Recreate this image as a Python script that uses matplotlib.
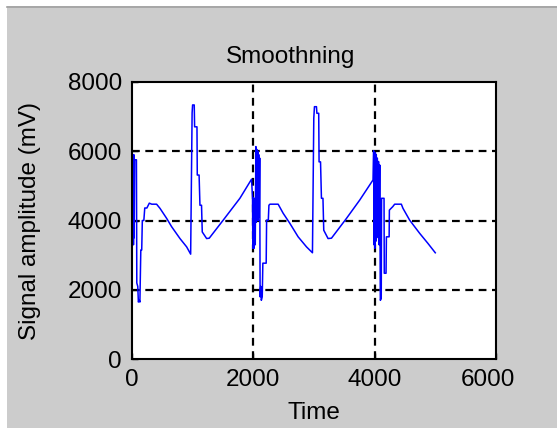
import matplotlib
matplotlib.use('Agg')
import matplotlib.pyplot as plt
from matplotlib.patches import Rectangle
from matplotlib.lines import Line2D
import matplotlib.transforms as mtransforms

plt.rcParams['font.family'] = ['Liberation Sans', 'DejaVu Sans']

# signal vertices (time, amplitude in mV)
time_pts = [0, 4, 9, 14, 19, 24, 29, 34, 40, 50, 78, 84, 100, 110, 125, 135,
            150, 165, 175, 200, 215, 250, 290, 330, 410, 466, 576, 658, 795,
            905, 971, 995, 1003, 1030, 1036, 1075, 1080, 1110, 1124, 1150,
            1162, 1234, 1277, 1507, 1782, 1974,
            1990, 1995, 2000, 2005, 2010, 2015, 2025, 2035, 2045, 2052, 2060,
            2068, 2076, 2084, 2092, 2100, 2108, 2115, 2125, 2135, 2150, 2160,
            2215, 2222, 2250, 2260, 2277, 2412, 2494, 2604, 2741, 2879, 2977,
            2999, 3010, 3043, 3050, 3080, 3086, 3110, 3125, 3150, 3163, 3234,
            3290, 3537, 3756, 3975,
            3985, 3990, 3998, 4005, 4012, 4020, 4028, 4036, 4045, 4055, 4065,
            4075, 4085, 4095, 4110, 4115, 4156, 4160, 4189, 4195, 4240, 4244,
            4300, 4331, 4441, 4468, 4578, 4743, 4879, 5000]
amp_pts = [450, 5850, 3300, 5900, 3400, 5800, 3300, 5900, 3500, 5750, 5750,
           2200, 2100, 1650, 1700, 1650, 3150, 3150, 4000, 4000, 4360, 4360,
           4500, 4470, 4470, 4350, 4060, 3820, 3480, 3240, 3030, 7100, 7330,
           7330, 6700, 6700, 5310, 5310, 4440, 4440, 3670, 3480, 3490, 4010,
           4640, 5190,
           4650, 3200, 4600, 3300, 4650, 3200, 4600, 3300, 6130, 3950, 6050,
           4000, 6000, 4000, 5900, 4100, 5800, 1800, 2100, 1700, 1800, 2770,
           2770, 4010, 4010, 4440, 4470, 4470, 4210, 3920, 3530, 3240, 3070,
           6950, 7280, 7280, 7090, 7090, 5690, 5690, 4640, 4640, 3720, 3480,
           3490, 4060, 4590, 5170,
           6010, 3300, 5900, 3200, 5950, 3400, 5900, 3500, 5800, 4000, 5700,
           3300, 5600, 1700, 1750, 4640, 4640, 2480, 2480, 3530, 3530, 4300,
           4400, 4470, 4470, 4350, 4010, 3630, 3340, 3070]

x_ticks = [0, 2000, 4000, 6000]
y_ticks = [0, 2000, 4000, 6000, 8000]

W, H = 557, 428
fig = plt.figure(figsize=(W / 100, H / 100), dpi=100, facecolor='#cccccc')

# white strips of the window frame (top and left)
fig.patches.append(Rectangle((0, 1 - 6 / H), 1, 6 / H, transform=fig.transFigure,
                             facecolor='white', edgecolor='none', zorder=0))
fig.patches.append(Rectangle((0, 0), 7 / W, 1, transform=fig.transFigure,
                             facecolor='white', edgecolor='none', zorder=0))
fig.lines.append(Line2D([7 / W, 1], [1 - 6.5 / H, 1 - 6.5 / H], transform=fig.transFigure,
                        color='#a0a0a0', lw=1.2))

ax = fig.add_axes([131.7 / W, 68.7 / H, 364.3 / W, 277.6 / H])
ax.set_facecolor('white')
ax.plot(time_pts, amp_pts, color='#0000ff', lw=1.1)

ax.set_xlim(0, 6000)
ax.set_ylim(0, 8000)
ax.set_xticks(x_ticks)
ax.set_yticks(y_ticks)
ax.tick_params(direction='in', length=4, width=1, labelsize=17.5, pad=7)
for s in ax.spines.values():
    s.set_linewidth(1.5)

for v in x_ticks[1:-1]:
    ax.axvline(v, color='black', lw=1.6, ls=(0, (3.5, 2.5)), zorder=1)
for v in y_ticks[1:-1]:
    ax.axhline(v, color='black', lw=1.6, ls=(0, (3.5, 2.5)), zorder=1)

# matlab pulls the last x label a bit inward
lbl = ax.get_xticklabels()[-1]
lbl.set_transform(lbl.get_transform() + mtransforms.ScaledTranslation(-8 / 100, 0, fig.dpi_scale_trans))

ax.set_xlabel('Time', fontsize=17.5, labelpad=8)
ax.set_ylabel('Signal amplitude (mV)', fontsize=17.5, labelpad=19)
ax.text(0.4365, 1.05, 'Smoothning', transform=ax.transAxes, ha='center',
        va='bottom', fontsize=17.5)

fig.savefig('out.png', dpi=100, facecolor=fig.get_facecolor())
